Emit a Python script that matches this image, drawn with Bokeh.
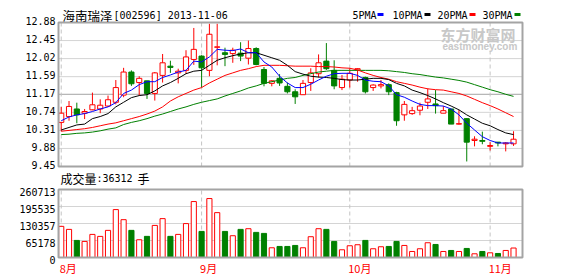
from bokeh.plotting import figure
from bokeh.models import ColumnDataSource, FixedTicker, Label, Range1d
from bokeh.embed import file_html
from bokeh.resources import INLINE

# ---------------- data ----------------
stock_name = "海南瑞泽"
stock_code_date = "[002596] 2013-11-06"
volume_caption = ["成交量", ":36312", "手"]
month_pos = [0, 18, 37, 55]
month_labels = ["8月", "9月", "10月", "11月"]
price_ticks = [9.45, 9.88, 10.31, 10.74, 11.17, 11.59, 12.02, 12.45, 12.88]
price_tick_labels = ["9.45", "9.88", "10.31", "10.74", "11.17", "11.59", "12.02", "12.45", "12.88"]
volume_ticks = [0, 65178, 130357, 195535, 260713]
volume_tick_labels = ["0", "65178", "130357", "195535", "260713"]
ma_names = ["5PMA", "10PMA", "20PMA", "30PMA"]
ma_colors = ["#0000ff", "#000000", "#ff0000", "#008000"]
watermark = ["东方财富网", "eastmoney.com"]

open_ = [10.50, 10.64, 10.82, 10.72, 10.80, 10.82, 10.89, 10.98, 11.15, 11.70,
         11.45, 11.49, 11.19, 11.62, 11.84, 11.68, 11.74, 12.00, 12.08, 11.74,
         12.29, 12.16, 12.14, 12.15, 12.03, 12.26, 11.76, 11.43, 11.55, 11.36,
         11.23, 11.16, 11.45, 11.66, 11.96, 11.74, 11.33, 11.51, 11.75, 11.57,
         11.33, 11.37, 11.40, 11.21, 10.68, 10.71, 10.79, 10.98, 10.94, 10.72,
         10.82, 10.46, 10.59, 10.07, 10.07, 9.93, 10.03, 9.99, 9.99]
high = [10.87, 11.01, 10.97, 10.82, 11.21, 11.05, 11.14, 11.51, 11.80, 11.74,
        11.60, 11.49, 11.70, 12.13, 11.97, 11.78, 12.22, 12.75, 12.10, 12.85,
        12.85, 12.28, 12.28, 12.41, 12.45, 12.29, 11.82, 11.51, 11.65, 11.45,
        11.29, 11.51, 11.79, 12.12, 12.39, 11.98, 11.63, 11.79, 11.79, 11.59,
        11.41, 11.51, 11.43, 11.23, 11.01, 10.87, 10.97, 11.31, 11.27, 10.89,
        10.82, 10.80, 10.60, 10.17, 10.28, 10.03, 10.03, 10.03, 10.29]
low = [10.29, 10.54, 10.48, 10.58, 10.79, 10.72, 10.87, 10.93, 11.10, 11.37,
       11.14, 11.06, 11.02, 11.45, 11.68, 11.43, 11.66, 11.87, 11.33, 11.60,
       11.86, 11.84, 11.92, 11.96, 11.88, 11.86, 11.36, 11.36, 11.37, 11.19,
       10.94, 11.16, 11.25, 11.57, 11.75, 11.29, 11.27, 11.33, 11.47, 11.19,
       11.25, 11.31, 11.15, 10.42, 10.54, 10.68, 10.67, 10.82, 10.71, 10.72,
       10.46, 10.45, 9.57, 9.93, 9.98, 9.83, 9.93, 9.81, 9.94]
close = [10.72, 10.88, 10.68, 10.76, 10.92, 10.91, 11.04, 11.33, 11.70, 11.42,
         11.55, 11.19, 11.68, 11.92, 11.81, 11.72, 12.06, 12.24, 11.80, 12.60,
         12.30, 12.12, 12.22, 12.08, 12.26, 11.88, 11.43, 11.49, 11.44, 11.23,
         11.11, 11.43, 11.68, 11.92, 11.78, 11.37, 11.53, 11.67, 11.78, 11.23,
         11.39, 11.40, 11.23, 10.54, 10.93, 10.78, 10.89, 11.06, 10.90, 10.78,
         10.46, 10.47, 10.03, 10.10, 10.05, 9.95, 10.01, 10.01, 10.10]
volume = [119400, 107800, 65500, 61600, 88600, 80900, 104000, 183700, 145000, 104000,
          68000, 81000, 123000, 149000, 81000, 88600, 130000, 214500, 100000, 226000,
          172000, 100000, 83500, 107800, 110400, 96300, 92400, 37300, 42400, 42400,
          46200, 37300, 79700, 110400, 107800, 61600, 29600, 45000, 48900, 65500,
          33500, 41200, 42400, 61600, 46200, 23100, 33500, 56600, 50000, 23100,
          27000, 23100, 34700, 14200, 23100, 18000, 15400, 27000, 36312]
ma5 = [10.54, 10.63, 10.68, 10.71, 10.76, 10.82, 10.87, 10.97, 11.19, 11.27,
       11.40, 11.47, 11.47, 11.57, 11.63, 11.70, 11.74, 11.96, 11.94, 12.06,
       12.24, 12.22, 12.21, 12.25, 12.16, 12.16, 11.94, 11.82, 11.60, 11.44,
       11.33, 11.33, 11.41, 11.51, 11.60, 11.66, 11.67, 11.67, 11.62, 11.51,
       11.48, 11.47, 11.37, 11.16, 11.10, 11.01, 10.93, 10.90, 10.90, 10.89,
       10.82, 10.68, 10.48, 10.32, 10.16, 10.07, 10.01, 10.01, 10.01]
ma10 = [10.32, 10.38, 10.44, 10.46, 10.59, 10.64, 10.71, 10.87, 10.98, 11.09,
        11.14, 11.16, 11.25, 11.37, 11.45, 11.55, 11.66, 11.72, 11.74, 11.86,
        11.98, 12.04, 12.09, 12.13, 12.16, 12.16, 12.10, 12.04, 11.98, 11.86,
        11.71, 11.65, 11.60, 11.58, 11.57, 11.55, 11.52, 11.51, 11.51, 11.53,
        11.55, 11.55, 11.52, 11.43, 11.37, 11.27, 11.21, 11.14, 11.06, 10.97,
        10.89, 10.80, 10.68, 10.58, 10.48, 10.42, 10.33, 10.25, 10.21]
ma20 = [10.29, 10.31, 10.33, 10.35, 10.38, 10.42, 10.46, 10.49, 10.54, 10.59,
        10.64, 10.70, 10.77, 10.87, 11.01, 11.11, 11.19, 11.27, 11.33, 11.44,
        11.53, 11.62, 11.68, 11.74, 11.78, 11.83, 11.86, 11.86, 11.86, 11.85,
        11.84, 11.84, 11.84, 11.83, 11.83, 11.82, 11.80, 11.79, 11.75, 11.68,
        11.62, 11.57, 11.53, 11.47, 11.43, 11.39, 11.34, 11.30, 11.28, 11.27,
        11.23, 11.19, 11.13, 11.05, 10.97, 10.90, 10.82, 10.73, 10.64]
ma30 = [10.21, 10.22, 10.24, 10.25, 10.27, 10.30, 10.34, 10.37, 10.45, 10.50,
        10.54, 10.59, 10.65, 10.70, 10.76, 10.82, 10.87, 10.93, 10.98, 11.02,
        11.06, 11.13, 11.19, 11.25, 11.32, 11.37, 11.43, 11.47, 11.51, 11.55,
        11.57, 11.62, 11.66, 11.70, 11.72, 11.74, 11.74, 11.74, 11.74, 11.74,
        11.74, 11.74, 11.73, 11.71, 11.69, 11.66, 11.64, 11.61, 11.58, 11.56,
        11.53, 11.50, 11.46, 11.40, 11.34, 11.28, 11.23, 11.17, 11.12]

# ---------------- layout (pixel geometry of the two panels) ----------------
W, H = 578, 276
PANEL_L, PANEL_R = 58, 522          # both panels share these x edges
FRAME_L, FRAME_R = 55, 525          # bokeh frame (slightly wider so outlines are not clipped)
P_TOP, P_BOT = 22, 166              # price panel
V_TOP, V_BOT = 189, 257             # volume panel
XMIN, XMAX = -0.35, 59.15           # data x at PANEL_L / PANEL_R
PMIN, PMAX = price_ticks[0], price_ticks[-1]
VMAX = volume_ticks[-1]
MONO = "DejaVu Sans Mono"
CJK = "Noto Sans CJK SC"
UP, DOWN = "#ff0000", "#008000"
GRID, FRAMEC = "#d4d4d4", "#a4a4a4"

def xd(px):
    return XMIN + (px - PANEL_L) * (XMAX - XMIN) / (PANEL_R - PANEL_L)

def yp(py):   # canvas pixel row -> price-scale value
    return PMAX - (py - P_TOP) * (PMAX - PMIN) / (P_BOT - P_TOP)

def yv(py):   # canvas pixel row -> volume-scale value
    return (V_BOT - py) * VMAX / (V_BOT - V_TOP)

def py_of_price(v):
    return P_TOP + (PMAX - v) * (P_BOT - P_TOP) / (PMAX - PMIN)

def py_of_vol(v):
    return V_BOT - v * (V_BOT - V_TOP) / VMAX

n = len(close)
xs = list(range(n))
is_up = [c >= o for o, c in zip(open_, close)]
colors = [UP if u else DOWN for u in is_up]
fills = ["#ffffff" if u else DOWN for u in is_up]
src = ColumnDataSource(dict(
    x=xs, o=open_, h=high, l=low, c=close,
    top=[max(o, c) for o, c in zip(open_, close)],
    bottom=[min(o, c) for o, c in zip(open_, close)],
    color=colors, fill=fills, vol=volume,
    ma5=ma5, ma10=ma10, ma20=ma20, ma30=ma30))

p = figure(width=W, height=H, x_range=Range1d(xd(FRAME_L), xd(FRAME_R)),
           y_range=Range1d(yp(H), yp(0)), output_backend="svg", toolbar_location=None,
           x_axis_location=None, min_border_left=FRAME_L, min_border_right=W - FRAME_R,
           min_border_top=0, min_border_bottom=0)
p.extra_y_ranges = {"vol": Range1d(yv(H), yv(0))}
p.outline_line_color = None
p.grid.visible = False
p.background_fill_color = "white"
p.border_fill_color = "white"

# left axis: price labels sit ~1.5px above their line, volume labels ~3px below
label_pos, label_txt = [], []
for v, t in zip(price_ticks, price_tick_labels):
    label_pos.append(yp(py_of_price(v) - 1.5)); label_txt.append(t)
for v, t in zip(volume_ticks, volume_tick_labels):
    label_pos.append(yp(py_of_vol(v) + 2.5)); label_txt.append(t)
ax = p.yaxis[0]
ax.ticker = FixedTicker(ticks=label_pos)
ax.major_label_overrides = dict(zip(label_pos, label_txt))
ax.axis_line_color = None
ax.major_tick_line_color = None
ax.minor_tick_line_color = None
ax.major_tick_out = 0
ax.major_tick_in = 0
ax.major_label_standoff = 0
ax.major_label_text_font = MONO
ax.major_label_text_font_size = "10px"
ax.major_label_text_color = "#000000"

# grid lines
inner_p = price_ticks[1:-1]
p.segment(x0=[XMIN] * len(inner_p), y0=inner_p, x1=[XMAX] * len(inner_p), y1=inner_p,
          line_color=[FRAMEC if v == price_ticks[4] else GRID for v in inner_p], line_width=1)
inner_v = volume_ticks[1:-1]
p.segment(x0=[XMIN] * len(inner_v), y0=inner_v, x1=[XMAX] * len(inner_v), y1=inner_v,
          line_color=GRID, line_width=1, y_range_name="vol")

# month separators
p.segment(x0=month_pos, y0=[PMIN] * 4, x1=month_pos, y1=[PMAX] * 4,
          line_color="#c4c4c4", line_dash="4 3", line_width=1)
p.segment(x0=month_pos, y0=[0] * 4, x1=month_pos, y1=[VMAX] * 4,
          line_color="#c4c4c4", line_dash="4 3", line_width=1, y_range_name="vol")

# candles
p.segment(x0="x", y0="h", x1="x", y1="l", line_color="color", line_width=1, source=src)
p.vbar(x="x", width=0.66, top="top", bottom="bottom", fill_color="fill",
       line_color="color", line_width=1, source=src)
# moving averages
for col, clr in reversed(list(zip(["ma5", "ma10", "ma20", "ma30"], ma_colors))):
    p.line(x="x", y=col, line_color=clr, line_width=1, source=src)

# volume bars
p.vbar(x="x", width=0.66, top="vol", bottom=0, fill_color="fill", line_color="color",
       line_width=1, source=src, y_range_name="vol")

# panel frames
p.quad(left=[XMIN], right=[XMAX], bottom=[PMIN], top=[PMAX], fill_color=None,
       line_color=FRAMEC, line_width=2)
p.quad(left=[XMIN], right=[XMAX], bottom=[0], top=[VMAX], fill_color=None,
       line_color=FRAMEC, line_width=2, y_range_name="vol")


def add_label(x_px, y_px, text, font=MONO, size="10px", color="#000000", style="normal"):
    p.add_layout(Label(x=xd(x_px), y=yp(y_px), text=text, text_font=font,
                       text_font_size=size, text_color=color, text_align="left",
                       text_baseline="middle", text_font_style=style))

# title
add_label(62, 14.5, stock_name, font=CJK, size="12.5px")
add_label(113, 14.5, stock_code_date, font=MONO, size="10px")
# legend
legend_x = [352, 392, 437, 482]
marker_x = [380, 427, 472, 517]
for name, clr, lx in zip(ma_names, ma_colors, legend_x):
    add_label(lx, 14.5, name)
p.rect(x=[xd(m) for m in marker_x], y=[yp(14)] * 4, width=6, height=3,
       width_units="screen", height_units="screen", fill_color=ma_colors,
       line_color=None)
# watermark
add_label(440, 34, watermark[0], font=CJK, size="15px", color="#c8c8c8", style="bold")
add_label(442, 45.5, watermark[1], font="Liberation Sans", size="10px",
          color="#c8c8c8", style="bold")
# volume caption
add_label(60, 177.5, volume_caption[0], font=CJK, size="12px")
add_label(96, 177.5, volume_caption[1], font=MONO, size="10px")
add_label(137, 177.5, volume_caption[2], font=CJK, size="12px")
# month labels
for m, t in zip(month_pos, month_labels):
    add_label(PANEL_L + (m - XMIN) * (PANEL_R - PANEL_L) / (XMAX - XMIN) - 1.5, 267.5, t,
              font=CJK, size="11px", color=UP)

open("out.html", "w").write(file_html(p, INLINE))
